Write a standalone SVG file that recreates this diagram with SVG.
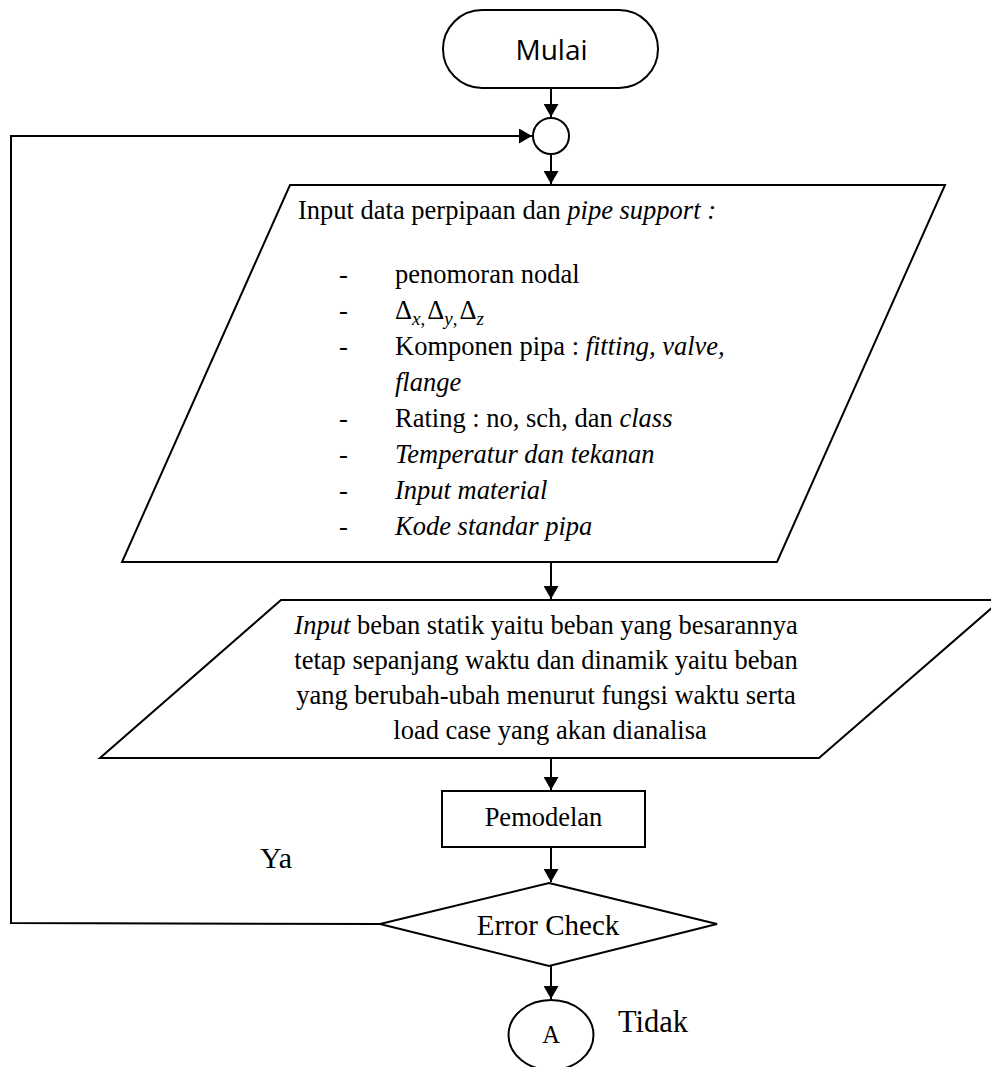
<svg xmlns="http://www.w3.org/2000/svg" width="991" height="1067" viewBox="0 0 991 1067">
<defs>
<style>
.shape{fill:#fff;stroke:#000;stroke-width:2}
.conn{fill:none;stroke:#000;stroke-width:2}
.t{font-family:"Liberation Serif","Times New Roman",serif;font-size:26.5px;fill:#000}
.i{font-style:italic}
.sans{font-family:"Open Sans","Liberation Sans",sans-serif;font-size:28px;fill:#000}
</style>
<marker id="arr" markerUnits="userSpaceOnUse" markerWidth="14" markerHeight="15" refX="13" refY="7.5" orient="auto">
<path d="M0,0 L13,7.5 L0,15 z" fill="#000"/>
</marker>
</defs>
<rect width="991" height="1067" fill="#fff"/>

<g id="connectors">
<line class="conn" x1="551" y1="88" x2="551" y2="117" marker-end="url(#arr)"/>
<line class="conn" x1="551" y1="154" x2="551" y2="184" marker-end="url(#arr)"/>
<line class="conn" x1="551" y1="562" x2="551" y2="599" marker-end="url(#arr)"/>
<line class="conn" x1="551" y1="758" x2="551" y2="790" marker-end="url(#arr)"/>
<line class="conn" x1="551" y1="847" x2="551" y2="882" marker-end="url(#arr)"/>
<line class="conn" x1="551" y1="966" x2="551" y2="999" marker-end="url(#arr)"/>
<polyline class="conn" points="380,924 11,923 11,136 532,136" marker-end="url(#arr)"/>
<text class="t" x="260" y="868" style="font-size:30px">Ya</text>
<text class="t" x="618" y="1032" style="font-size:30.5px">Tidak</text>
</g>

<g id="mulai">
<rect class="shape" x="443" y="10" width="215" height="78" rx="39" ry="39"/>
<text class="sans" x="551.5" y="60" text-anchor="middle">Mulai</text>
</g>

<g id="junction">
<circle class="shape" cx="551" cy="136" r="18"/>
</g>

<g id="input-data">
<polygon class="shape" points="290,185 945,185 777,562 122,562"/>
<text class="t" x="298" y="219">Input data perpipaan dan <tspan class="i">pipe support :</tspan></text>
<text class="t" x="339" y="283">-</text>
<text class="t" x="395" y="283">penomoran nodal</text>
<text class="t" x="339" y="319">-</text>
<text class="t" x="395" y="319">Δ<tspan class="i" dy="6" style="font-size:19px">x</tspan><tspan dy="0" style="font-size:19px">,</tspan><tspan dy="-6" dx="2">Δ</tspan><tspan class="i" dy="6" style="font-size:19px">y</tspan><tspan style="font-size:19px">,</tspan><tspan dy="-6" dx="2">Δ</tspan><tspan class="i" dy="6" style="font-size:19px">z</tspan></text>
<text class="t" x="339" y="355">-</text>
<text class="t" x="395" y="355">Komponen pipa : <tspan class="i">fitting, valve,</tspan></text>
<text class="t i" x="395" y="391">flange</text>
<text class="t" x="339" y="427">-</text>
<text class="t" x="395" y="427">Rating : no, sch, dan <tspan class="i">class</tspan></text>
<text class="t" x="339" y="463">-</text>
<text class="t i" x="395" y="463">Temperatur dan tekanan</text>
<text class="t" x="339" y="499">-</text>
<text class="t i" x="395" y="499">Input material</text>
<text class="t" x="339" y="535">-</text>
<text class="t i" x="395" y="535">Kode standar pipa</text>
</g>

<g id="input-beban">
<polygon class="shape" points="281,600 1001,600 819,758 100,758"/>
<text class="t" x="546" y="634" text-anchor="middle"><tspan class="i">Input</tspan> beban statik yaitu beban yang besarannya</text>
<text class="t" x="546" y="669" text-anchor="middle">tetap sepanjang waktu dan dinamik yaitu beban</text>
<text class="t" x="546" y="704" text-anchor="middle">yang berubah-ubah menurut fungsi waktu serta</text>
<text class="t" x="550" y="739" text-anchor="middle">load case yang akan dianalisa</text>
</g>

<g id="pemodelan">
<rect class="shape" x="442" y="791" width="203" height="56"/>
<text class="t" x="543.5" y="826" text-anchor="middle">Pemodelan</text>
</g>

<g id="error-check">
<polygon class="shape" points="549,883 717,924 549,966 380,924"/>
<text class="t" x="548" y="935" text-anchor="middle" style="font-size:29px">Error Check</text>
</g>

<g id="connector-a">
<ellipse class="shape" cx="551" cy="1035" rx="42.5" ry="35"/>
<text class="t" x="551" y="1043" text-anchor="middle" style="font-size:24.5px">A</text>
</g>
</svg>
